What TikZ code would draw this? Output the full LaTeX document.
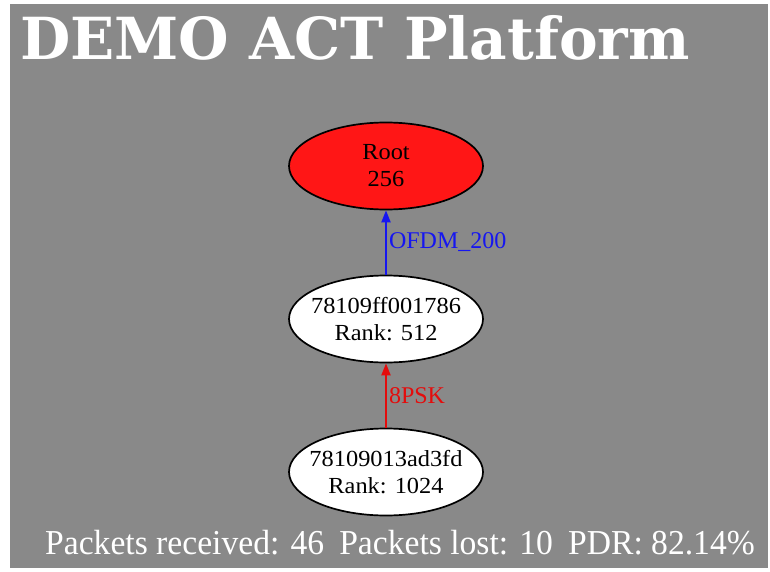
\documentclass[tikz,border=0pt]{standalone}
\usepackage{fontspec}
\setmainfont{Liberation Serif}
\newfontfamily\titlefont{DejaVu Serif}
\usetikzlibrary{shapes.geometric, arrows.meta, positioning}
\definecolor{bggray}{RGB}{137,137,137}
\definecolor{rootred}{RGB}{255,22,22}
\definecolor{linkblue}{RGB}{22,22,240}
\definecolor{linkred}{RGB}{228,12,12}
\newcommand{\wide}[1]{\scalebox{1.06}[1]{#1}}
\tikzstyle{root} = [ellipse, minimum width=194pt, minimum height=87pt, inner xsep=-15pt, inner ysep=0pt, text centered, align=center, draw=black, line width=1.7pt, fill=rootred, font=\fontsize{23}{27}\selectfont]
\tikzstyle{mote} = [ellipse, minimum width=194pt, minimum height=87pt, inner xsep=-15pt, inner ysep=0pt, text centered, align=center, draw=black, line width=1.7pt, fill=white, font=\fontsize{23}{27}\selectfont]
\tikzstyle{arrow} = [line width=2pt,-{Triangle[length=12pt,width=9pt]}]
\tikzstyle{linklabel} = [right, inner sep=2pt, font=\fontsize{24}{27}\selectfont]

\begin{document}
\begin{tikzpicture}[x=1pt, y=-1pt, node distance=153pt]

\useasboundingbox (0,0) rectangle (770,572);
\fill[bggray] (10,4) rectangle (768,568);

% Title
\node (title) [anchor=base west, inner sep=0pt, text=white, font=\titlefont\bfseries\fontsize{58}{60}\selectfont] at (20,60) {DEMO ACT Platform};

% Motes
\node (leaf) [mote] at (386,472) {\wide{78109013ad3fd}\\\wide{Rank: 1024}};
\node (parent) [mote, above of=leaf] {\wide{78109ff001786}\\\wide{Rank: 512}};
\node (root) [root, above of=parent] {\wide{Root}\\\wide{256}};

\draw[arrow, linkblue] (parent) -- node[linklabel, text=linkblue] {OFDM\_200} (root);
\draw[arrow, linkred] (leaf) -- node[linklabel, text=linkred] {8PSK} (parent);

% Stats
\node (stats) [anchor=base west, inner sep=0pt, text=white, font=\fontsize{35}{40}\selectfont] at (45,554) {\scalebox{0.96}[1]{Packets received: 46\hspace{0.45em}Packets lost: 10\hspace{0.45em}PDR: 82.14\%}};

\end{tikzpicture}
\end{document}
